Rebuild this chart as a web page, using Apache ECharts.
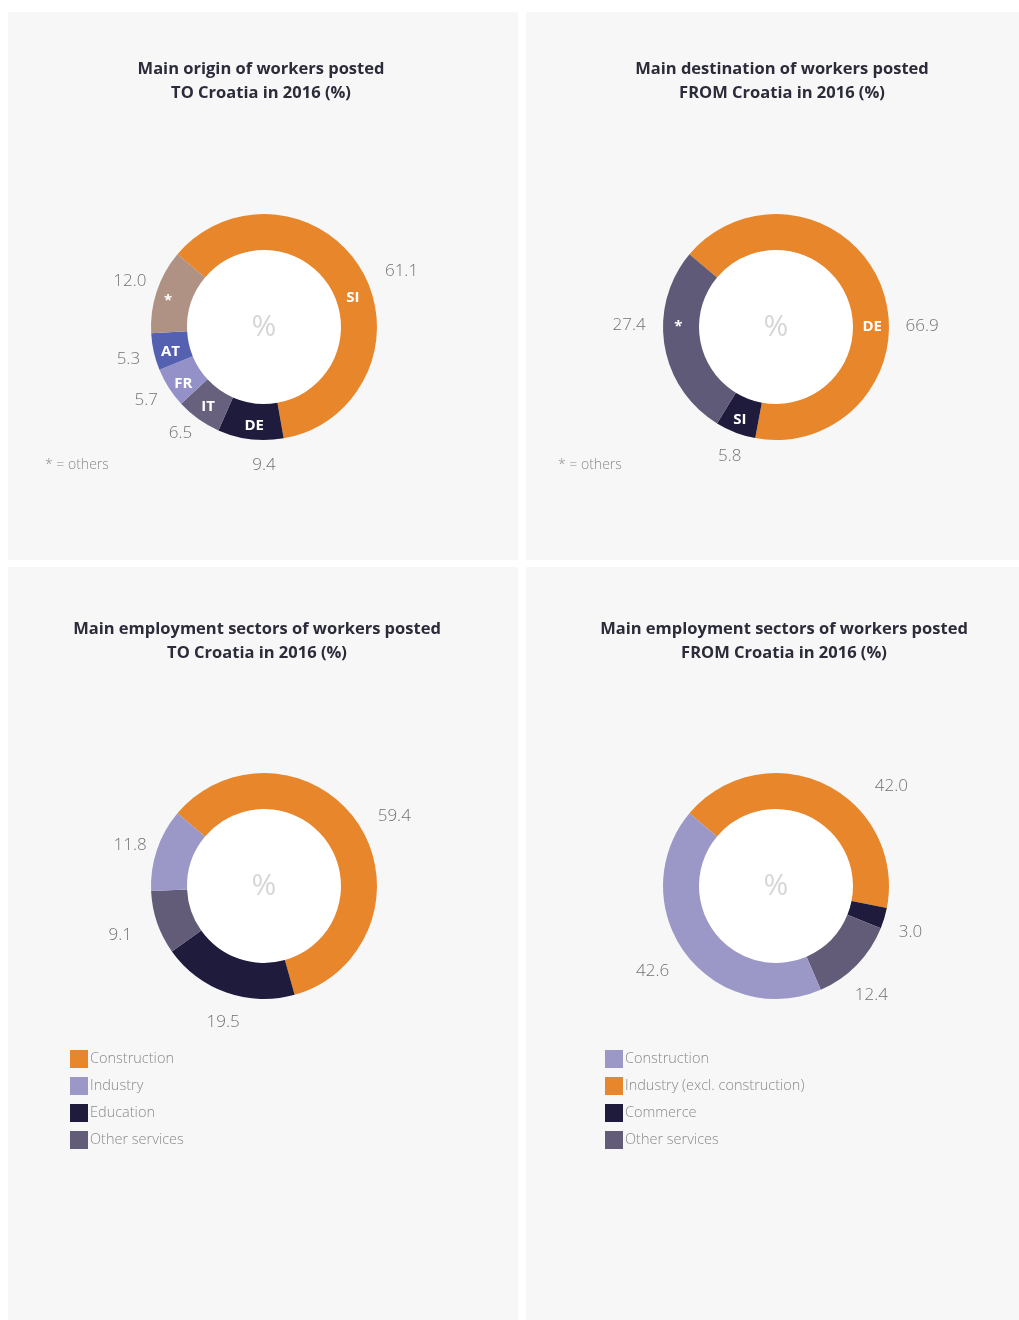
<!DOCTYPE html>
<html>
<head>
<meta charset="utf-8">
<script src="https://cdn.jsdelivr.net/npm/echarts@6/dist/echarts.min.js"></script>
<style>
  html, body { margin: 0; padding: 0; background: #ffffff; }
  #chart { width: 1019px; height: 1320px; }
</style>
</head>
<body>
<div id="chart"></div>
<script>
// ---------- data ----------
const originNames = ['SI', 'DE', 'IT', 'FR', 'AT', '*'];
const originValues = [61.1, 9.4, 6.5, 5.7, 5.3, 12.0];

const destNames = ['DE', 'SI', '*'];
const destValues = [66.9, 5.8, 27.4];

const sectorsToNames = ['Construction', 'Education', 'Other services', 'Industry'];
const sectorsToValues = [59.4, 19.5, 9.1, 11.8];
const sectorsToLegend = ['Construction', 'Industry', 'Education', 'Other services'];

const sectorsFromNames = ['Industry (excl. construction)', 'Commerce', 'Other services', 'Construction'];
const sectorsFromValues = [42.0, 3.0, 12.4, 42.6];
const sectorsFromLegend = ['Construction', 'Industry (excl. construction)', 'Commerce', 'Other services'];

const titles = [
  'Main origin of workers posted\nTO Croatia in 2016 (%)',
  'Main destination of workers posted\nFROM Croatia in 2016 (%)',
  'Main employment sectors of workers posted\nTO Croatia in 2016 (%)',
  'Main employment sectors of workers posted\nFROM Croatia in 2016 (%)'
];

// ---------- styles ----------
const C = {
  orange: '#E8862C', lavender: '#9B98C8', navy: '#1E1B3D', slate: '#625C78',
  tan: '#AF9283', blue: '#5461B0', fr: '#9491C9', it: '#67617D'
};
const colorsOrigin = [C.orange, C.navy, C.it, C.fr, C.blue, C.tan];
const colorsDest = [C.orange, C.navy, '#5F5A77'];
const colorsTo = [C.orange, C.navy, C.slate, C.lavender];
const colorsFrom = [C.orange, C.navy, C.slate, C.lavender];

// label nudges (pixels) – hand placement of labels as in the original layout
const nudgeOut = [
  [[1, 8], [37, 12], [12, 3], [11, 5], [10, 4], [13, -6]],
  [[0, 42], [21, 11], [5, -22]],
  [[-3, -1], [28, 16], [-2, 8], [13, 0]],
  [[34, 15], [-9, 10], [-22, 20], [5, 9]]
];
const nudgeIn = [
  [[4, 20], [2, 1], [1, 0], [2, 4], [2, 3], [-3, 5]],
  [[4, 33], [-1, 1], [-1, -16]]
];

const FONT = "'Open Sans', 'DejaVu Sans', sans-serif";
const R_IN = 77, R_OUT = 113;

function items(names, values, colors) {
  return names.map((n, i) => ({ name: n, value: values[i], itemStyle: { color: colors[i] } }));
}

function nudger(table) {
  return function (p) {
    const d = table && table[p.dataIndex];
    return d ? { dx: d[0], dy: d[1] } : {};
  };
}

function ringSeries(k, center, names, values, colors, insideLabels) {
  const base = {
    type: 'pie', center: center, radius: [R_IN, R_OUT], startAngle: 140, clockwise: true,
    avoidLabelOverlap: false, silent: true, animation: false,
    itemStyle: { borderWidth: 0 }, emphasis: { disabled: true }
  };
  const hole = {
    type: 'pie', center: center, radius: [0, R_IN], silent: true, animation: false,
    data: [{ name: '%', value: 1, itemStyle: { color: '#ffffff' } }],
    label: { show: true, position: 'center', formatter: '%', color: '#d6d6d6', fontSize: 30, fontFamily: FONT },
    labelLine: { show: false }, itemStyle: { borderWidth: 0 }, emphasis: { disabled: true }, z: 1
  };
  const ring = Object.assign({}, base, {
    data: items(names, values, colors),
    label: insideLabels ? {
      show: true, position: 'inside', formatter: '{b}', color: '#ffffff',
      fontSize: 15, fontWeight: 'bold', fontFamily: FONT
    } : { show: false },
    labelLayout: nudger(nudgeIn[k]),
    labelLine: { show: false }, z: 2
  });
  const outer = Object.assign({}, base, {
    data: names.map((n, i) => ({ name: n, value: values[i], itemStyle: { color: 'rgba(0,0,0,0)' } })),
    label: {
      show: true, position: 'outside', formatter: p => p.value.toFixed(1),
      color: '#727272', fontSize: 17, fontWeight: 300, fontFamily: FONT, distanceToLabelLine: 4
    },
    labelLayout: nudger(nudgeOut[k]),
    labelLine: { show: false, length: 14, length2: 6 }, z: 3
  });
  return [hole, ring, outer];
}

const panelBg = '#F7F7F7';
const panels = [
  { x: 8, y: 12, w: 510, h: 548 },
  { x: 526, y: 12, w: 493, h: 548 },
  { x: 8, y: 567, w: 510, h: 753 },
  { x: 526, y: 567, w: 493, h: 753 }
];

const centers = [[264, 327], [776, 327], [264, 886], [776, 886]];
const titleX = [256, 777, 252, 779];

function legendFor(names, colorByName, left) {
  return {
    orient: 'vertical', left: left, top: 1045, itemWidth: 18, itemHeight: 18, itemGap: 9,
    icon: 'rect', selectedMode: false,
    textStyle: { color: '#8a8a8a', fontSize: 14.5, fontWeight: 300, fontFamily: FONT, padding: [0, 0, 0, -3] },
    data: names.map(n => ({ name: n, itemStyle: { color: colorByName[n] } }))
  };
}

const toColorMap = {}; sectorsToNames.forEach((n, i) => toColorMap[n] = colorsTo[i]);
const fromColorMap = {}; sectorsFromNames.forEach((n, i) => fromColorMap[n] = colorsFrom[i]);

const option = {
  backgroundColor: '#ffffff',
  animation: false,
  title: titles.map((t, i) => ({
    text: t, left: titleX[i], top: i < 2 ? 52 : 612, textAlign: 'center',
    textStyle: { fontFamily: FONT, fontSize: 16.5, fontWeight: 'bold', color: '#2b2b3a', lineHeight: 24 }
  })),
  legend: [
    legendFor(sectorsToLegend, toColorMap, 65),
    legendFor(sectorsFromLegend, fromColorMap, 600)
  ],
  graphic: panels.map(p => ({
    type: 'rect', shape: { x: p.x, y: p.y, width: p.w, height: p.h },
    style: { fill: panelBg }, z: -10, silent: true
  })).concat([
    { type: 'text', x: 45, y: 458, z: 5, silent: true,
      style: { text: '* = others', fill: '#8a8a8a', fontSize: 14, fontWeight: 300, fontFamily: FONT } },
    { type: 'text', x: 558, y: 458, z: 5, silent: true,
      style: { text: '* = others', fill: '#8a8a8a', fontSize: 14, fontWeight: 300, fontFamily: FONT } }
  ]),
  series: [].concat(
    ringSeries(0, centers[0], originNames, originValues, colorsOrigin, true),
    ringSeries(1, centers[1], destNames, destValues, colorsDest, true),
    ringSeries(2, centers[2], sectorsToNames, sectorsToValues, colorsTo, false),
    ringSeries(3, centers[3], sectorsFromNames, sectorsFromValues, colorsFrom, false)
  )
};

const chart = echarts.init(document.getElementById('chart'), null, { renderer: 'canvas' });
chart.setOption(option);
</script>
</body>
</html>
